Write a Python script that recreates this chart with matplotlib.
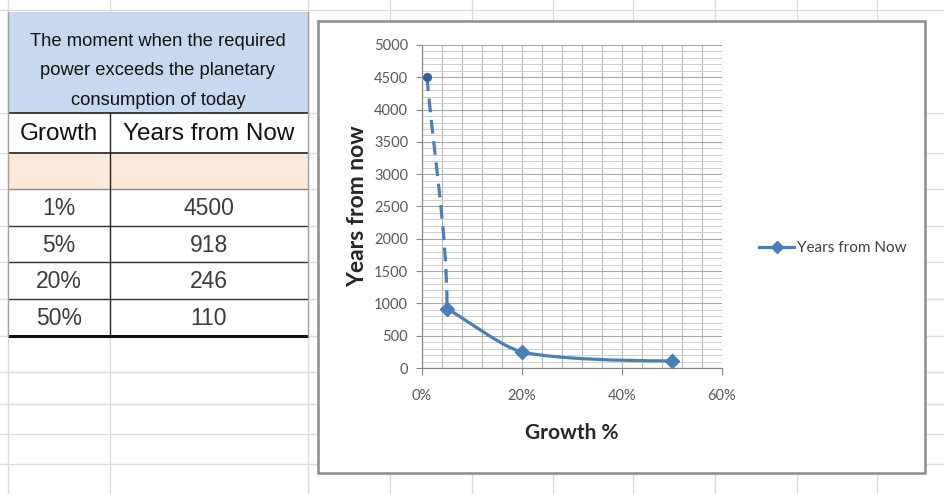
import matplotlib.pyplot as plt
from matplotlib.patches import Rectangle, PathPatch
from matplotlib.path import Path
from matplotlib.lines import Line2D
from matplotlib.ticker import MultipleLocator, FuncFormatter

# growth rate vs. years until required power exceeds today's consumption
growth = [0.01, 0.05, 0.20, 0.50]
growth_labels = ['1%', '5%', '20%', '50%']
years = [4500, 918, 246, 110]

table_title = ['The moment when the required',
               'power exceeds the planetary',
               'consumption of today']
col_headers = ['Growth', 'Years from Now']
series_name = 'Years from Now'
x_title = 'Growth %'
y_title = 'Years from now'

# bezier handles per segment, as fractions of (dx, dy): (start handle), (end handle)
smooth = [((1 / 3, 1 / 3), (0.0, 1 / 3)),
          ((1 / 3, 0.33), (0.29, 0.14)),
          ((0.233, 0.8), (1 / 3, 0.0))]

W, H = 944, 494
BLUE = '#4A7EBB'
TABLE_FONT = ['Liberation Sans', 'DejaVu Sans']
CHART_FONT = ['Lato', 'DejaVu Sans']

fig = plt.figure(figsize=(W / 100, H / 100), dpi=100)
fig.patch.set_facecolor('white')

# worksheet layer in pixel units
sheet = fig.add_axes([0, 0, 1, 1])
sheet.set_xlim(0, W)
sheet.set_ylim(H, 0)
sheet.axis('off')

for x in [8, 110, 308, 390, 472, 553, 633, 715, 797, 877]:
    sheet.axvline(x, color='#DCDCDC', lw=1, zorder=0)
for y in [10, 113, 153, 189, 226, 262, 299, 336, 372, 404, 434, 464]:
    sheet.axhline(y, color='#DCDCDC', lw=1, zorder=0)

# table
sheet.add_patch(Rectangle((8, 12), 300, 101, fc='#C6D9F1', ec='none', zorder=1))
sheet.add_patch(Rectangle((8, 153), 300, 36, fc='#FDE9D9', ec='none', zorder=1))
sheet.add_patch(Rectangle((8, 113), 300, 40, fc='white', ec='none', zorder=1))
for i, line in enumerate(table_title):
    sheet.text(158, 41 + 29.5 * i, line, ha='center', va='center', fontsize=13.2,
               color='#111111', family=TABLE_FONT, zorder=3)

sheet.text(59, 134, col_headers[0], ha='center', va='center', fontsize=17.5,
           color='#111111', family=TABLE_FONT, zorder=3)
sheet.text(209, 134, col_headers[1], ha='center', va='center', fontsize=17.5,
           color='#111111', family=TABLE_FONT, zorder=3)

row_lines = [189, 226, 262, 299, 336]
for i, (g, v) in enumerate(zip(growth_labels, years)):
    yc = (row_lines[i] + row_lines[i + 1]) / 2 + 1
    sheet.add_patch(Rectangle((8, row_lines[i]), 300, row_lines[i + 1] - row_lines[i],
                              fc='white', ec='none', zorder=1))
    sheet.text(59, yc, g, ha='center', va='center', fontsize=16.5,
               color='#3C3C3C', family=TABLE_FONT, zorder=3)
    sheet.text(209, yc, str(v), ha='center', va='center', fontsize=16.5,
               color='#3C3C3C', family=TABLE_FONT, zorder=3)

for y, c, lw in [(113, '#202020', 1.2), (153, '#202020', 1.2), (189, '#8A8A8A', 1.0),
                 (226, '#303030', 1.0), (262, '#303030', 1.0), (299, '#303030', 1.0),
                 (336, '#101010', 2.2)]:
    sheet.plot([8, 308], [y, y], color=c, lw=lw, zorder=2, solid_capstyle='butt')
sheet.plot([110, 110], [113, 336], color='#202020', lw=1.0, zorder=2)
sheet.plot([8, 8], [12, 336], color='#A0A0A0', lw=1.0, zorder=2)
sheet.plot([308, 308], [12, 336], color='#A0A0A0', lw=1.0, zorder=2)

# chart area
sheet.add_patch(Rectangle((318, 21), 607, 452, fc='white', ec='#8C8C8C', lw=1.8, zorder=2))

# plot area
ax = fig.add_axes([422 / W, 1 - 368 / H, 300 / W, 323 / H])
ax.set_xlim(0, 0.6)
ax.set_ylim(0, 5000)
ax.set_facecolor('white')
ax.set_axisbelow(True)

ax.xaxis.set_major_locator(MultipleLocator(0.2))
ax.xaxis.set_minor_locator(MultipleLocator(0.04))
ax.yaxis.set_major_locator(MultipleLocator(500))
ax.yaxis.set_minor_locator(MultipleLocator(100))
ax.xaxis.set_major_formatter(FuncFormatter(lambda v, _: f'{v * 100:.0f}%'))

ax.grid(which='minor', axis='y', color='#CFCFCF', lw=0.7)
ax.grid(which='major', axis='y', color='#A8A8A8', lw=0.8)
ax.grid(which='both', axis='x', color='#B8B8B8', lw=0.8)

ax.tick_params(which='minor', length=0)
ax.tick_params(axis='y', which='major', length=4, width=0.8, color='#888888', pad=6,
               labelsize=10.5, labelcolor='#595959')
ax.tick_params(axis='x', which='major', length=5, width=0.8, color='#888888', pad=10,
               labelsize=10.5, labelcolor='#595959')
for lab in ax.get_xticklabels() + ax.get_yticklabels():
    lab.set_family(CHART_FONT)

for side in ['top', 'right']:
    ax.spines[side].set_visible(False)
for side in ['left', 'bottom']:
    ax.spines[side].set_color('#888888')
    ax.spines[side].set_linewidth(0.9)


def segment_verts(i):
    x0, y0, x1, y1 = growth[i], years[i], growth[i + 1], years[i + 1]
    dx, dy = x1 - x0, y1 - y0
    (a, b), (c, d) = smooth[i]
    return [(x0, y0), (x0 + a * dx, y0 + b * dy), (x1 - c * dx, y1 - d * dy), (x1, y1)]


curve = Path.CURVE4
dash_path = Path(segment_verts(0), [Path.MOVETO, curve, curve, curve])
ax.add_patch(PathPatch(dash_path, fill=False, ec=BLUE, lw=2.3,
                       linestyle=(0, (4.3, 2.4)), capstyle='butt', zorder=3))

solid_verts = segment_verts(1) + segment_verts(2)[1:]
solid_codes = [Path.MOVETO] + [curve] * (len(solid_verts) - 1)
ax.add_patch(PathPatch(Path(solid_verts, solid_codes), fill=False, ec=BLUE, lw=2.3,
                       capstyle='round', zorder=3))

ax.plot(growth[1:], years[1:], ls='none', marker='D', ms=7.5, color=BLUE, zorder=4,
        clip_on=False)
ax.plot(growth[:1], years[:1], ls='none', marker='o', ms=5.5, color='#34619A', zorder=4,
        clip_on=False)

ax.set_xlabel(x_title, fontsize=15, fontweight='bold', color='#262626', family=CHART_FONT)
ax.set_ylabel(y_title, fontsize=16.5, fontweight='bold', color='#262626', family=CHART_FONT)
ax.xaxis.set_label_coords(0.5, -0.17)
ax.yaxis.set_label_coords(-0.18, 0.5)

handle = Line2D([], [], color=BLUE, lw=2.3, marker='D', ms=6)
ax.legend(handles=[handle], labels=[series_name], loc='center left',
          bbox_to_anchor=(759 / W, 1 - 248 / H), bbox_transform=fig.transFigure,
          frameon=False, prop={'family': CHART_FONT, 'size': 11}, labelcolor='#404040',
          handlelength=2.3, handletextpad=0.2, borderpad=0, borderaxespad=0)

fig.savefig('out.png', dpi=100)
